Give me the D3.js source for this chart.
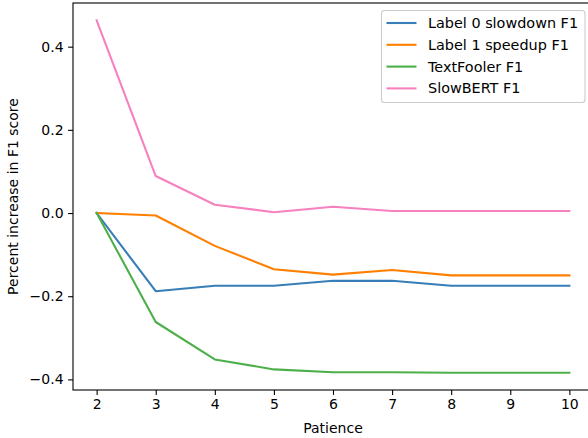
<!DOCTYPE html>
<html>
<head>
<meta charset="utf-8">
<script src="https://cdn.jsdelivr.net/npm/d3@7"></script>
<style>
  body { margin: 0; background: white; }
  svg { display: block; font-family: "DejaVu Sans", sans-serif; }
</style>
</head>
<body>
<div id="chart"></div>
<script>
// patience values on x
var patience = [2, 3, 4, 5, 6, 7, 8, 9, 10];

var label0Slowdown = [0, -0.188, -0.175, -0.175, -0.163, -0.163, -0.175, -0.175, -0.175];
var label1Speedup = [0, -0.006, -0.079, -0.135, -0.148, -0.137, -0.150, -0.150, -0.150];
var textFooler = [0, -0.262, -0.352, -0.376, -0.383, -0.383, -0.384, -0.384, -0.384];
var slowBert = [0.463, 0.089, 0.020, 0.002, 0.015, 0.005, 0.005, 0.005, 0.005];

var seriesNames = ["Label 0 slowdown F1", "Label 1 speedup F1", "TextFooler F1", "SlowBERT F1"];
var seriesColors = ["#377eb8", "#ff7f00", "#4daf4a", "#f781bf"];
var yTicks = [-0.4, -0.2, 0.0, 0.2, 0.4];

var width = 588, height = 438;
var plotLeft = 73, plotTop = 3, plotRight = 593, plotBottom = 390;

var svg = d3.select("#chart").append("svg").attr("width", width).attr("height", height);

var x = d3.scaleLinear().domain([1.6, 10.4]).range([plotLeft, plotRight]);
var y = d3.scaleLinear().domain([-0.4255, 0.505]).range([plotBottom, plotTop]);

var allSeries = [label0Slowdown, label1Speedup, textFooler, slowBert];

var line = d3.line()
  .x(function(d, i) { return x(patience[i]); })
  .y(function(d) { return y(d); });

svg.selectAll(".series").data(allSeries).enter().append("path")
  .attr("class", "series")
  .attr("d", line)
  .attr("fill", "none")
  .attr("stroke", function(d, i) { return seriesColors[i]; })
  .attr("stroke-width", 2.1)
  .attr("stroke-linejoin", "round")
  .attr("stroke-linecap", "square");

// axes
var xAxis = d3.axisBottom(x).tickValues(patience).tickSize(4.9).tickPadding(4.5).tickFormat(d3.format("d"));
var yAxis = d3.axisLeft(y).tickValues(yTicks).tickSize(4.9).tickPadding(4.5)
  .tickFormat(function(d) { return d3.format(".1f")(d).replace("-", "\u2212"); });

var gx = svg.append("g").attr("transform", "translate(0," + plotBottom + ")").call(xAxis);
var gy = svg.append("g").attr("transform", "translate(" + plotLeft + ",0)").call(yAxis);

[gx, gy].forEach(function(g) {
  g.select(".domain").remove();
  g.selectAll(".tick line").attr("stroke", "#000").attr("stroke-width", 1.1);
  g.selectAll(".tick text").attr("fill", "#000").style("font-size", "14px").style("font-family", "DejaVu Sans");
});

// spines
svg.append("rect")
  .attr("x", plotLeft).attr("y", plotTop)
  .attr("width", plotRight - plotLeft).attr("height", plotBottom - plotTop)
  .attr("fill", "none").attr("stroke", "#000").attr("stroke-width", 1.1);

// axis labels
svg.append("text")
  .attr("x", (plotLeft + plotRight) / 2).attr("y", 433)
  .attr("text-anchor", "middle")
  .style("font-size", "14px")
  .text("Patience");

svg.append("text")
  .attr("transform", "translate(18," + ((plotTop + plotBottom) / 2) + ") rotate(-90)")
  .attr("text-anchor", "middle")
  .style("font-size", "14px")
  .text("Percent increase in F1 score");

// legend
var legend = svg.append("g").attr("transform", "translate(381.5,10.5)");
legend.append("rect")
  .attr("width", 203.5).attr("height", 92)
  .attr("rx", 3).attr("ry", 3)
  .attr("fill", "white").attr("fill-opacity", 0.8)
  .attr("stroke", "#cccccc").attr("stroke-width", 1.1);

var items = legend.selectAll(".item").data(seriesNames).enter().append("g")
  .attr("class", "item")
  .attr("transform", function(d, i) { return "translate(0," + (12.5 + i * 21.8) + ")"; });

items.append("line")
  .attr("x1", 5).attr("x2", 35)
  .attr("stroke", function(d, i) { return seriesColors[i]; })
  .attr("stroke-width", 2.1);

items.append("text")
  .attr("x", 46.5).attr("dy", "0.35em")
  .style("font-size", "14.4px")
  .text(function(d) { return d; });
</script>
</body>
</html>
